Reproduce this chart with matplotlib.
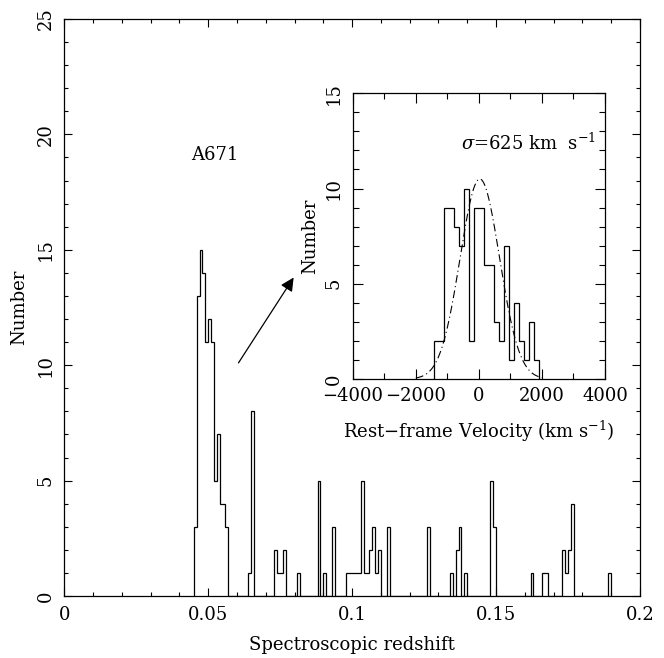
import numpy as np
import matplotlib.pyplot as plt
from matplotlib.ticker import MultipleLocator

plt.rcParams['font.family'] = 'DejaVu Serif'
plt.rcParams['mathtext.fontset'] = 'dejavuserif'

# main histogram: left edge of each non-empty bin (width 0.001) and its count
z_lo = [0.045, 0.046, 0.047, 0.048, 0.049, 0.050, 0.051, 0.052, 0.053, 0.054, 0.055, 0.056,
        0.064, 0.065, 0.073, 0.074, 0.075, 0.076, 0.081, 0.088, 0.090, 0.093,
        0.098, 0.099, 0.100, 0.101, 0.102, 0.103, 0.104, 0.105, 0.106, 0.107, 0.108, 0.109,
        0.112, 0.126, 0.134, 0.136, 0.137, 0.139, 0.148, 0.149,
        0.162, 0.166, 0.167, 0.173, 0.174, 0.175, 0.176, 0.189]
z_n = [3, 13, 15, 14, 11, 12, 11, 5, 7, 4, 4, 3,
       1, 8, 2, 1, 1, 2, 1, 5, 1, 3,
       1, 1, 1, 1, 1, 5, 1, 1, 2, 3, 1, 2,
       3, 3, 1, 2, 3, 1, 5, 3,
       1, 1, 1, 2, 1, 2, 4, 1]
bin_w = 0.001

# inset: rest-frame velocity histogram of A671
v_edges = [-1427, -1269, -1110, -951, -793, -634, -476, -317, -159, 0, 159,
           317, 476, 634, 793, 951, 1110, 1269, 1427, 1586, 1744, 1903]
v_n = [2, 2, 9, 9, 8, 7, 10, 2, 9, 9, 6, 6, 3, 2, 7, 1, 4, 2, 1, 3, 1]
sigma = 625.0
v_mu = 30.0
g_amp = 10.5

edges = np.round(np.arange(0.045, 0.1905, bin_w), 4)
counts = np.zeros(len(edges) - 1)
for z, n in zip(z_lo, z_n):
    counts[int(round((z - 0.045) / bin_w))] = n

fig = plt.figure(figsize=(6.64, 6.58), dpi=100)

###############################################################################
# main panel
ax = fig.add_axes([0.0968, 0.0942, 0.8670, 0.8769])
ax.stairs(counts, edges, color='k', lw=0.9)
ax.set_xlim(0, 0.2)
ax.set_ylim(0, 25)
ax.xaxis.set_major_locator(MultipleLocator(0.05))
ax.xaxis.set_minor_locator(MultipleLocator(0.01))
ax.yaxis.set_major_locator(MultipleLocator(5))
ax.yaxis.set_minor_locator(MultipleLocator(1))
ax.tick_params(which='both', direction='in', top=True, right=True, width=0.8, labelsize=13)
ax.tick_params(which='major', length=6)
ax.tick_params(which='minor', length=3)
ax.tick_params(axis='x', pad=7)
ax.tick_params(axis='y', pad=7)
for lab in ax.get_yticklabels():
    lab.set_rotation(90)
    lab.set_va('center')
ax.xaxis.set_major_formatter(plt.FuncFormatter(lambda v, p: ('%g' % round(v, 3))))
ax.set_xlabel('Spectroscopic redshift', fontsize=13, labelpad=9)
ax.set_ylabel('Number', fontsize=13, labelpad=6)
for s in ax.spines.values():
    s.set_linewidth(0.9)

ax.text(0.0524, 19.1, 'A671', fontsize=13, ha='center', va='center')
ax.annotate('', xy=(0.0802, 13.9), xytext=(0.060, 10.0),
            arrowprops=dict(arrowstyle='-|>', color='k', lw=0.9, mutation_scale=20))

###############################################################################
# inset
ax2 = fig.add_axes([0.5312, 0.4240, 0.3800, 0.4342])
ax2.stairs(v_n, v_edges, color='k', lw=0.9)
vv = np.linspace(-2000, 2000, 400)
ax2.plot(vv, g_amp * np.exp(-0.5 * ((vv - v_mu) / sigma) ** 2), color='k', lw=0.8,
         linestyle=(0, (7, 3, 1, 3)))
ax2.set_xlim(-4000, 4000)
ax2.set_ylim(0, 15)
ax2.xaxis.set_major_locator(MultipleLocator(2000))
ax2.xaxis.set_minor_locator(MultipleLocator(1000))
ax2.yaxis.set_major_locator(MultipleLocator(5))
ax2.yaxis.set_minor_locator(MultipleLocator(1))
ax2.tick_params(which='both', direction='in', top=True, right=True, width=0.8, labelsize=13)
ax2.tick_params(which='major', length=7.5)
ax2.tick_params(which='minor', length=4)
ax2.tick_params(axis='x', pad=6)
ax2.tick_params(axis='y', pad=7)
for lab in ax2.get_yticklabels():
    lab.set_rotation(90)
    lab.set_va('center')
ax2.set_xlabel('Rest\u2212frame Velocity (km s$^{-1}$)', fontsize=13, labelpad=10)
ax2.set_ylabel('Number', fontsize=13, labelpad=4)
for s in ax2.spines.values():
    s.set_linewidth(0.9)
ax2.text(-560, 12.4, r'$\sigma$=625 km  s$^{-1}$', fontsize=13, ha='left', va='center')

fig.savefig('out.png', dpi=100)
